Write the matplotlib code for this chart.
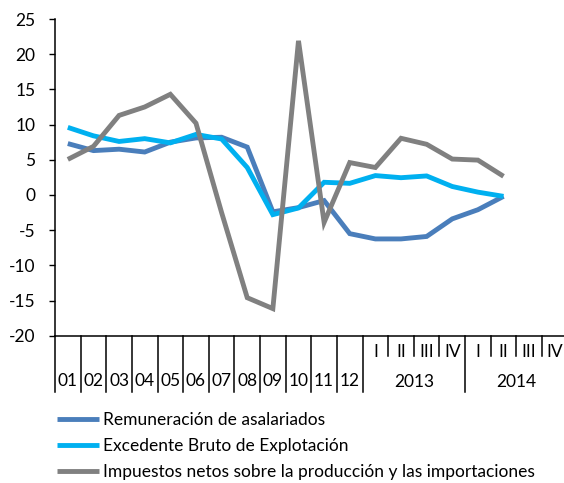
import matplotlib
matplotlib.use("Agg")
import matplotlib.pyplot as plt

plt.rcParams['font.family'] = ['Lato', 'DejaVu Sans']

years = ["01", "02", "03", "04", "05", "06", "07", "08", "09", "10", "11", "12"]
quarters = ["I", "II", "III", "IV"]
quarter_years = ["2013", "2014"]

remuneracion = [7.3, 6.3, 6.5, 6.1, 7.5, 8.1, 8.2, 6.8, -2.4, -1.8, -0.8, -5.5,
                -6.25, -6.25, -5.9, -3.4, -2.1, -0.2]
excedente = [9.6, 8.4, 7.6, 8.0, 7.4, 8.6, 7.95, 3.9, -2.8, -1.85, 1.8, 1.65,
             2.75, 2.45, 2.7, 1.2, 0.4, -0.2]
impuestos = [5.05, 6.9, 11.3, 12.5, 14.3, 10.2, -2.5, -14.6, -16.15, 21.9, -3.9, 4.6,
             3.9, 8.05, 7.2, 5.1, 4.95, 2.65]

series_names = ["Remuneración de asalariados",
                "Excedente Bruto de Explotación",
                "Impuestos netos sobre la producción y las importaciones"]
colors = ["#4A7EBB", "#00B0F0", "#808080"]

n_cat = len(years) + len(quarters) * len(quarter_years)

W, H = 564, 483
fig = plt.figure(figsize=(W / 100, H / 100), dpi=100)
ax_left, ax_right = 55, 567.6
ax_top, ax_bottom = 19, 335.7
ax = fig.add_axes([ax_left / W, 1 - ax_bottom / H, (ax_right - ax_left) / W, (ax_bottom - ax_top) / H])

x = [i + 0.5 for i in range(len(remuneracion))]
for vals, name, c in zip([remuneracion, excedente, impuestos], series_names, colors):
    ax.plot(x, vals, color=c, lw=3.5, label=name, solid_joinstyle='miter', solid_capstyle='butt')

ax.set_xlim(0, n_cat)
ax.set_ylim(-20, 25)
ax.set_yticks(range(-20, 26, 5))
ax.set_yticklabels([str(v) for v in range(-20, 26, 5)])
ax.tick_params(axis='y', direction='out', length=4, width=1, pad=10, labelsize=12.5, colors='black')
ax.set_xticks([])
for s in ['top', 'right']:
    ax.spines[s].set_visible(False)
for s in ['left', 'bottom']:
    ax.spines[s].set_linewidth(1.1)
    ax.spines[s].set_color('black')

trans = ax.get_xaxis_transform()
axh = ax_bottom - ax_top
def yf(py):
    return (ax_bottom - py) / axh

# separators
for k in range(0, n_cat):
    if k <= len(years) or k == len(years) + len(quarters):
        y_end = yf(392)
    else:
        y_end = yf(356)
    ax.plot([k, k], [0, y_end], transform=trans, color='black', lw=1.1, clip_on=False)

# labels
for i, lab in enumerate(years):
    ax.text(i + 0.5, yf(381), lab, transform=trans, ha='center', va='center', fontsize=12.5)
for j, yr in enumerate(quarter_years):
    base = len(years) + j * len(quarters)
    for q, ql in enumerate(quarters):
        ax.text(base + q + 0.5, yf(352), ql, transform=trans, ha='center', va='center', fontsize=12.5)
    ax.text(base + len(quarters) / 2, yf(382), yr, transform=trans, ha='center', va='center', fontsize=12.5)

leg = fig.legend(loc='upper left', bbox_to_anchor=(57 / W, 1 - 412 / H), frameon=False,
                 fontsize=12.5, handlelength=2.4, handletextpad=0.25, labelspacing=0.58,
                 borderpad=0, borderaxespad=0)

fig.savefig("out.png", dpi=100)
